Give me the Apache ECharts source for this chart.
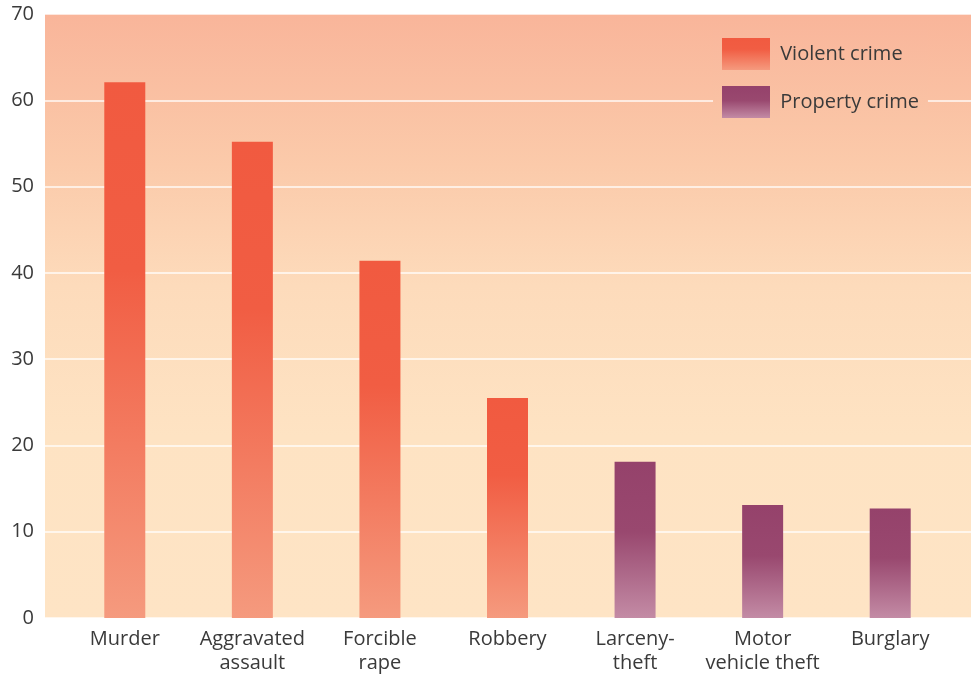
<!DOCTYPE html>
<html>
<head>
<meta charset="utf-8">
<script src="https://cdn.jsdelivr.net/npm/echarts@6/dist/echarts.min.js"></script>
<style>
  html, body { margin: 0; padding: 0; background: #ffffff; }
  #chart { width: 971px; height: 675px; }
</style>
</head>
<body>
<div id="chart"></div>
<script>
// Crime categories and rates (percent)
const categories = ['Murder', 'Aggravated\nassault', 'Forcible\nrape', 'Robbery', 'Larceny-\ntheft', 'Motor\nvehicle theft', 'Burglary'];
const violentCrime = [62.1, 55.2, 41.4, 25.5, '-', '-', '-'];
const propertyCrime = ['-', '-', '-', '-', 18.1, 13.1, 12.7];
const yTicks = { min: 0, max: 70, interval: 10 };

const FONT = 'Open Sans';
const TEXT = '#3a3a3a';

// Background wash of the plotting area, top to bottom
const bgStops = [
  [0.00, [249, 181, 154]],
  [0.25, [251, 202, 170]],
  [0.45, [253, 219, 187]],
  [0.70, [254, 227, 195]],
  [1.00, [254, 228, 197]]
];
function bgAt(t) {
  for (let i = 1; i < bgStops.length; i++) {
    const [o1, c1] = bgStops[i];
    const [o0, c0] = bgStops[i - 1];
    if (t <= o1) {
      const k = (t - o0) / (o1 - o0);
      const c = c0.map((v, j) => Math.round(v + (c1[j] - v) * k));
      return 'rgb(' + c.join(',') + ')';
    }
  }
  return 'rgb(' + bgStops[bgStops.length - 1][1].join(',') + ')';
}
const gridTop = 14, gridBottomPx = 618;
const gridH = gridBottomPx - gridTop;
function lin(stops) {
  return { type: 'linear', x: 0, y: 0, x2: 0, y2: 1,
    colorStops: stops.map(s => ({ offset: s[0], color: s[1] })) };
}
const bgGradient = lin(bgStops.map(s => [s[0], 'rgb(' + s[1].join(',') + ')']));

// Legend box spans roughly y 29..127; shade it with the same wash
const legTop = 29, legBottom = 127;
const legendBg = lin([
  [0, bgAt((legTop - gridTop) / gridH)],
  [1, bgAt((legBottom - gridTop) / gridH)]
]);

const violentFill = lin([[0, '#f15a40'], [0.35, '#f15d43'], [1, '#f59a7e']]);
const propertyFill = lin([[0, '#95426b'], [0.45, '#99486f'], [1, '#c38ba5']]);

const chart = echarts.init(document.getElementById('chart'), null, { renderer: 'canvas' });
chart.setOption({
  animation: false,
  backgroundColor: '#ffffff',
  textStyle: { fontFamily: FONT, color: TEXT },
  grid: [
    { left: 45, right: 0, top: gridTop, bottom: 675 - gridBottomPx,
      show: true, borderWidth: 0, backgroundColor: bgGradient, containLabel: false },
    { left: 61, right: 17, top: gridTop, bottom: 675 - gridBottomPx, containLabel: false }
  ],
  legend: {
    left: 713, top: legTop,
    orient: 'vertical',
    padding: [9, 9, 9, 9],
    icon: 'rect',
    itemWidth: 48, itemHeight: 32, itemGap: 16,
    backgroundColor: legendBg,
    formatter: ' {name}',
    textStyle: { fontFamily: FONT, fontSize: 20, color: TEXT, padding: [3, 0, 0, 0] },
    data: ['Violent crime', 'Property crime']
  },
  xAxis: [
    { gridIndex: 0, type: 'value', min: 0, max: 1, show: false },
    { gridIndex: 1, type: 'category', data: categories,
      axisLine: { show: false }, axisTick: { show: false },
      axisLabel: { fontFamily: FONT, fontSize: 20, color: TEXT, margin: 9, lineHeight: 24, interval: 0 } }
  ],
  yAxis: [
    { gridIndex: 0, type: 'value', min: yTicks.min, max: yTicks.max, interval: yTicks.interval,
      axisLine: { show: false }, axisTick: { show: false },
      axisLabel: { fontFamily: FONT, fontSize: 20, color: TEXT, margin: 11 },
      splitLine: { show: true, lineStyle: { color: 'rgba(255,255,255,0.9)', width: 1.5 } } },
    { gridIndex: 1, type: 'value', min: yTicks.min, max: yTicks.max, interval: yTicks.interval, show: false,
      splitLine: { show: false } }
  ],
  series: [
    { name: 'Violent crime', type: 'bar', xAxisIndex: 1, yAxisIndex: 1,
      data: violentCrime, barWidth: 41, barGap: '-100%',
      itemStyle: { color: violentFill } },
    { name: 'Property crime', type: 'bar', xAxisIndex: 1, yAxisIndex: 1,
      data: propertyCrime, barWidth: 41, barGap: '-100%',
      itemStyle: { color: propertyFill } }
  ]
});
</script>
</body>
</html>
